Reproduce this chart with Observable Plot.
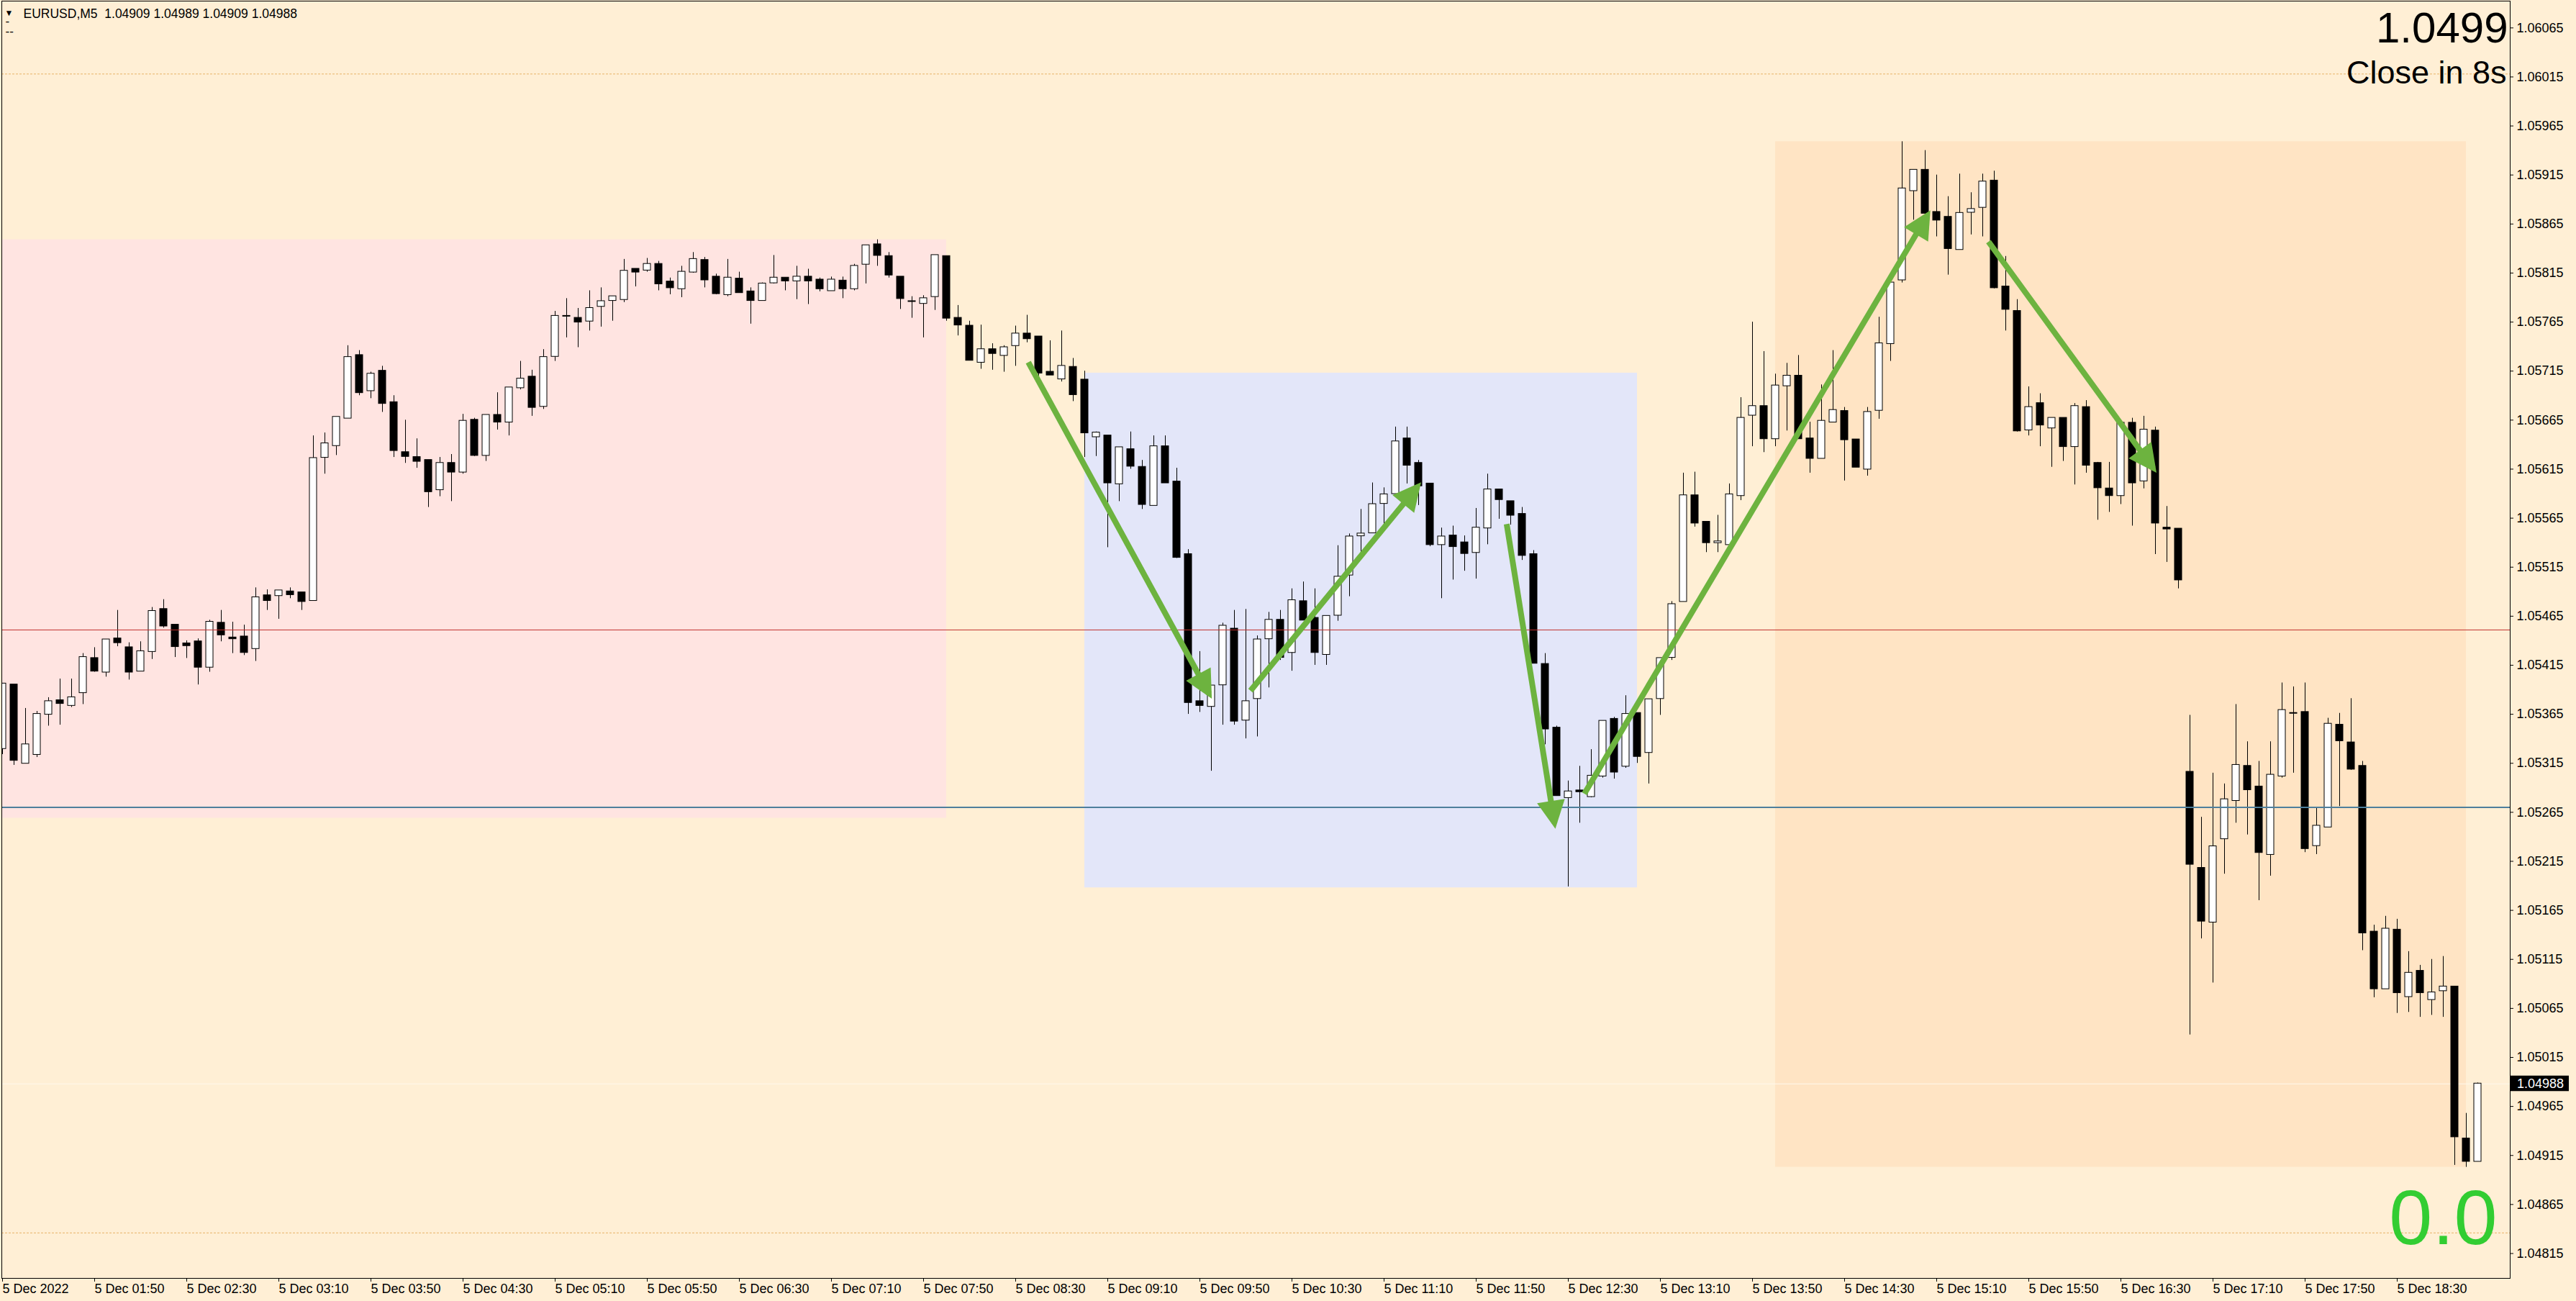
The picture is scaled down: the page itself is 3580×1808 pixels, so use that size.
<!DOCTYPE html>
<html>
<head>
<meta charset="utf-8">
<script src="https://cdn.jsdelivr.net/npm/d3@7"></script>
<script src="https://cdn.jsdelivr.net/npm/@observablehq/plot@0.6"></script>
<style>
html, body { margin: 0; padding: 0; background: #FFEFD5; overflow: hidden; }
#chart svg { display: block; }
</style>
</head>
<body>
<div id="chart"></div>
<script>
// ---------- data ----------
const symbol = "EURUSD";
const timeframe = "M5";
const spreadText = "0.0";
const closeInText = "Close in 8s";

const open = [
1.05330,1.05395,1.05315,1.05324,1.05365,1.05379,1.05374,1.05387,1.05422,1.05408,
1.05442,1.05433,1.05409,1.05429,1.05472,1.05456,1.05437,1.05439,1.05413,1.05458,
1.05443,1.05444,1.05432,1.05486,1.05486,1.05490,1.05489,1.05481,1.05627,1.05639,
1.05667,1.05731,1.05695,1.05715,1.05683,1.05632,1.05627,1.05624,1.05594,1.05621,
1.05612,1.05665,1.05629,1.05670,1.05663,1.05698,1.05709,1.05679,1.05730,1.05771,
1.05769,1.05766,1.05781,1.05787,1.05788,1.05819,1.05818,1.05824,1.05806,1.05799,
1.05816,1.05828,1.05811,1.05793,1.05809,1.05796,1.05787,1.05805,1.05810,1.05807,
1.05811,1.05808,1.05797,1.05807,1.05799,1.05824,1.05844,1.05832,1.05811,1.05786,
1.05784,1.05791,1.05832,1.05769,1.05761,1.05724,1.05737,1.05731,1.05741,1.05753,
1.05750,1.05714,1.05707,1.05719,1.05706,1.05648,1.05649,1.05600,1.05635,1.05617,
1.05578,1.05638,1.05602,1.05528,1.05378,1.05373,1.05395,1.05452,1.05359,1.05381,
1.05442,1.05461,1.05428,1.05480,1.05463,1.05426,1.05466,1.05507,1.05547,1.05550,
1.05580,1.05590,1.05646,1.05621,1.05600,1.05538,1.05547,1.05540,1.05530,1.05555,
1.05594,1.05582,1.05569,1.05528,1.05416,1.05351,1.05280,1.05287,1.05281,1.05302,
1.05360,1.05312,1.05366,1.05326,1.05381,1.05423,1.05480,1.05588,1.05561,1.05540,
1.05538,1.05588,1.05670,1.05679,1.05646,1.05700,1.05710,1.05646,1.05626,1.05663,
1.05674,1.05645,1.05615,1.05675,1.05743,1.05808,1.05899,1.05920,1.05877,1.05872,
1.05839,1.05877,1.05882,1.05909,1.05801,1.05776,1.05655,1.05682,1.05657,1.05667,
1.05638,1.05678,1.05621,1.05595,1.05588,1.05662,1.05603,1.05654,1.05555,1.05554,
1.05306,1.05208,1.05153,1.05238,1.05277,1.05312,1.05291,1.05222,1.05302,1.05366,
1.05367,1.05231,1.05250,1.05354,1.05336,1.05312,1.05143,1.05085,1.05145,1.05077,
1.05103,1.05074,1.05083,1.05087,1.04932,1.04909];

const high = [
1.05396,1.05395,1.05371,1.05368,1.05382,1.05401,1.05401,1.05427,1.05433,1.05441,
1.05471,1.05438,1.05439,1.05474,1.05482,1.05456,1.05440,1.05442,1.05461,1.05471,
1.05459,1.05456,1.05494,1.05492,1.05491,1.05494,1.05489,1.05649,1.05652,1.05668,
1.05741,1.05736,1.05714,1.05720,1.05690,1.05665,1.05646,1.05624,1.05627,1.05630,
1.05671,1.05667,1.05670,1.05693,1.05698,1.05725,1.05716,1.05737,1.05776,1.05789,
1.05779,1.05797,1.05800,1.05791,1.05829,1.05819,1.05830,1.05827,1.05810,1.05822,
1.05836,1.05831,1.05814,1.05829,1.05816,1.05800,1.05805,1.05833,1.05810,1.05822,
1.05819,1.05810,1.05811,1.05811,1.05824,1.05843,1.05849,1.05836,1.05811,1.05791,
1.05792,1.05833,1.05832,1.05782,1.05766,1.05762,1.05743,1.05741,1.05761,1.05772,
1.05750,1.05746,1.05756,1.05728,1.05715,1.05653,1.05649,1.05637,1.05653,1.05624,
1.05649,1.05649,1.05616,1.05533,1.05429,1.05394,1.05458,1.05471,1.05472,1.05445,
1.05469,1.05471,1.05493,1.05500,1.05493,1.05465,1.05537,1.05549,1.05574,1.05601,
1.05596,1.05658,1.05658,1.05624,1.05600,1.05555,1.05557,1.05547,1.05575,1.05610,
1.05594,1.05582,1.05576,1.05532,1.05427,1.05353,1.05297,1.05312,1.05329,1.05358,
1.05362,1.05384,1.05366,1.05380,1.05422,1.05480,1.05611,1.05612,1.05561,1.05568,
1.05600,1.05688,1.05765,1.05735,1.05712,1.05723,1.05731,1.05663,1.05701,1.05736,
1.05678,1.05645,1.05678,1.05770,1.05805,1.05949,1.05920,1.05940,1.05915,1.05893,
1.05916,1.05897,1.05916,1.05919,1.05832,1.05788,1.05699,1.05692,1.05667,1.05667,
1.05682,1.05685,1.05622,1.05622,1.05663,1.05667,1.05669,1.05658,1.05577,1.05554,
1.05364,1.05260,1.05305,1.05294,1.05375,1.05337,1.05317,1.05337,1.05397,1.05393,
1.05397,1.05270,1.05361,1.05366,1.05381,1.05317,1.05150,1.05159,1.05156,1.05123,
1.05109,1.05115,1.05118,1.05087,1.04958,1.04989];

const low = [
1.05324,1.05313,1.05315,1.05321,1.05353,1.05354,1.05372,1.05375,1.05408,1.05403,
1.05434,1.05400,1.05409,1.05421,1.05453,1.05423,1.05422,1.05395,1.05408,1.05439,
1.05427,1.05425,1.05419,1.05471,1.05462,1.05483,1.05471,1.05481,1.05610,1.05629,
1.05667,1.05690,1.05687,1.05673,1.05627,1.05621,1.05616,1.05576,1.05587,1.05582,
1.05610,1.05628,1.05623,1.05655,1.05649,1.05696,1.05669,1.05676,1.05725,1.05749,
1.05739,1.05756,1.05760,1.05766,1.05785,1.05801,1.05816,1.05797,1.05793,1.05790,
1.05815,1.05800,1.05793,1.05791,1.05795,1.05763,1.05787,1.05804,1.05797,1.05788,
1.05783,1.05796,1.05797,1.05789,1.05797,1.05804,1.05822,1.05810,1.05778,1.05769,
1.05749,1.05777,1.05766,1.05751,1.05726,1.05717,1.05716,1.05714,1.05720,1.05744,
1.05700,1.05711,1.05704,1.05684,1.05627,1.05628,1.05535,1.05582,1.05615,1.05574,
1.05578,1.05601,1.05524,1.05365,1.05367,1.05307,1.05354,1.05354,1.05340,1.05342,
1.05392,1.05420,1.05409,1.05461,1.05415,1.05415,1.05460,1.05485,1.05523,1.05550,
1.05559,1.05587,1.05600,1.05578,1.05536,1.05483,1.05502,1.05511,1.05503,1.05538,
1.05564,1.05558,1.05522,1.05417,1.05334,1.05282,1.05189,1.05254,1.05280,1.05300,
1.05299,1.05310,1.05315,1.05294,1.05364,1.05420,1.05480,1.05556,1.05530,1.05530,
1.05538,1.05583,1.05638,1.05632,1.05638,1.05654,1.05646,1.05611,1.05626,1.05663,
1.05603,1.05617,1.05608,1.05666,1.05725,1.05805,1.05869,1.05875,1.05852,1.05813,
1.05839,1.05854,1.05852,1.05799,1.05756,1.05653,1.05649,1.05638,1.05617,1.05623,
1.05599,1.05611,1.05563,1.05571,1.05579,1.05557,1.05595,1.05528,1.05520,1.05493,
1.05038,1.05136,1.05091,1.05202,1.05254,1.05242,1.05175,1.05200,1.05300,1.05305,
1.05224,1.05222,1.05250,1.05271,1.05308,1.05124,1.05076,1.05085,1.05060,1.05061,
1.05056,1.05058,1.05056,1.04905,1.04903,1.04909];

const close = [
1.05396,1.05318,1.05334,1.05365,1.05378,1.05376,1.05382,1.05423,1.05409,1.05441,
1.05438,1.05408,1.05429,1.05470,1.05455,1.05434,1.05435,1.05413,1.05459,1.05446,
1.05442,1.05428,1.05484,1.05481,1.05491,1.05487,1.05480,1.05626,1.05641,1.05668,
1.05729,1.05693,1.05712,1.05682,1.05634,1.05628,1.05623,1.05592,1.05621,1.05612,
1.05664,1.05629,1.05670,1.05663,1.05698,1.05707,1.05678,1.05729,1.05771,1.05771,
1.05765,1.05779,1.05786,1.05791,1.05817,1.05816,1.05824,1.05804,1.05800,1.05816,
1.05829,1.05808,1.05794,1.05810,1.05795,1.05787,1.05804,1.05810,1.05807,1.05811,
1.05807,1.05799,1.05808,1.05799,1.05822,1.05843,1.05833,1.05813,1.05789,1.05786,
1.05789,1.05833,1.05769,1.05762,1.05726,1.05737,1.05733,1.05739,1.05753,1.05748,
1.05713,1.05711,1.05720,1.05691,1.05652,1.05652,1.05601,1.05637,1.05618,1.05579,
1.05638,1.05601,1.05525,1.05377,1.05374,1.05394,1.05455,1.05358,1.05378,1.05441,
1.05461,1.05423,1.05481,1.05461,1.05428,1.05465,1.05505,1.05546,1.05549,1.05579,
1.05589,1.05643,1.05619,1.05598,1.05538,1.05546,1.05536,1.05529,1.05555,1.05594,
1.05584,1.05568,1.05527,1.05417,1.05350,1.05282,1.05286,1.05286,1.05302,1.05358,
1.05306,1.05365,1.05322,1.05380,1.05422,1.05477,1.05588,1.05560,1.05540,1.05541,
1.05589,1.05667,1.05679,1.05646,1.05700,1.05710,1.05646,1.05626,1.05664,1.05675,
1.05645,1.05617,1.05673,1.05743,1.05805,1.05901,1.05920,1.05876,1.05869,1.05840,
1.05876,1.05880,1.05908,1.05800,1.05778,1.05654,1.05678,1.05660,1.05667,1.05638,
1.05679,1.05619,1.05596,1.05588,1.05662,1.05601,1.05655,1.05560,1.05554,1.05502,
1.05212,1.05154,1.05230,1.05278,1.05313,1.05288,1.05224,1.05303,1.05369,1.05366,
1.05228,1.05251,1.05355,1.05338,1.05309,1.05142,1.05085,1.05146,1.05081,1.05101,
1.05081,1.05081,1.05087,1.04934,1.04909,1.04988];

// time axis: bar index of each label, and the label text
const timeTickBars = [0,8,16,24,32,40,48,56,64,72,80,88,96,104,112,120,128,136,144,152,160,168,176,184,192,200,208];
const timeLabels = ["5 Dec 2022","5 Dec 01:50","5 Dec 02:30","5 Dec 03:10","5 Dec 03:50","5 Dec 04:30",
  "5 Dec 05:10","5 Dec 05:50","5 Dec 06:30","5 Dec 07:10","5 Dec 07:50","5 Dec 08:30","5 Dec 09:10",
  "5 Dec 09:50","5 Dec 10:30","5 Dec 11:10","5 Dec 11:50","5 Dec 12:30","5 Dec 13:10","5 Dec 13:50",
  "5 Dec 14:30","5 Dec 15:10","5 Dec 15:50","5 Dec 16:30","5 Dec 17:10","5 Dec 17:50","5 Dec 18:30"];

// price axis ticks
const priceTicks = [1.04815,1.04865,1.04915,1.04965,1.05015,1.05065,1.05115,1.05165,1.05215,1.05265,
  1.05315,1.05365,1.05415,1.05465,1.05515,1.05565,1.05615,1.05665,1.05715,1.05765,1.05815,1.05865,
  1.05915,1.05965,1.06015,1.06065];

// drawn objects
const zoneStart  = [-1, 94, 154];
const zoneEnd    = [82, 142, 214];
const zoneTop    = [1.05849, 1.05713, 1.05949];
const zoneBottom = [1.05259, 1.05188, 1.04903];

const redLevel = 1.05451;
const blueLevel = 1.05270;
const dashedLevels = [1.06018, 1.04836];
const bidPrice = 1.04988;

const arrowFromBar   = [89.1, 108.4, 130.65, 137.4, 172.5];
const arrowFromPrice = [1.05724, 1.05389, 1.05559, 1.05284, 1.05847];
const arrowToBar     = [104.8, 122.9, 134.8, 167.2, 186.8];
const arrowToPrice   = [1.05386, 1.05597, 1.05254, 1.05874, 1.05616];

// ---------- build ----------
const bars = open.map((o, i) => ({i, o, h: high[i], l: low[i], c: close[i]}));
const zones = zoneStart.map((s, k) => ({k, s, e: zoneEnd[k], t: zoneTop[k], b: zoneBottom[k]}));
const zoneColors = ["#FFE4E1", "#E3E6F9", "#FFE4C4"];
const arrows = arrowFromBar.map((x1, k) => ({x1, y1: arrowFromPrice[k], x2: arrowToBar[k], y2: arrowToPrice[k]}));

const last = bars[bars.length - 1];
const headerText = `${symbol},${timeframe}  ${last.o.toFixed(5)} ${last.h.toFixed(5)} ${last.l.toFixed(5)} ${last.c.toFixed(5)}`;
const bigPrice = last.c.toFixed(4);

const NS = "http://www.w3.org/2000/svg";
const FONT = "'Liberation Sans', Arial, sans-serif";

function arrowHead(color) {
  const m = document.createElementNS(NS, "marker");
  m.setAttribute("viewBox", "-45 -25 60 50");
  m.setAttribute("markerWidth", "60");
  m.setAttribute("markerHeight", "50");
  m.setAttribute("markerUnits", "userSpaceOnUse");
  m.setAttribute("refX", "0");
  m.setAttribute("refY", "0");
  m.setAttribute("orient", "auto");
  m.setAttribute("overflow", "visible");
  const p = document.createElementNS(NS, "path");
  p.setAttribute("d", "M8,0L-31,-19.5L-31,19.5Z");
  p.setAttribute("fill", color);
  p.setAttribute("stroke", "none");
  m.appendChild(p);
  return m;
}

function bidLabel(index, scales, values, dims) {
  const g = document.createElementNS(NS, "g");
  const y = scales.y(bidPrice);
  const x0 = dims.width - dims.marginRight;
  const r = document.createElementNS(NS, "rect");
  r.setAttribute("x", x0 + 1);
  r.setAttribute("y", y - 11);
  r.setAttribute("width", 81);
  r.setAttribute("height", 21.5);
  r.setAttribute("fill", "black");
  g.appendChild(r);
  const t = document.createElementNS(NS, "text");
  t.setAttribute("x", x0 + 10);
  t.setAttribute("y", y);
  t.setAttribute("dy", "0.34em");
  t.setAttribute("text-anchor", "start");
  t.setAttribute("fill", "white");
  t.setAttribute("font-size", "18");
  t.setAttribute("font-family", FONT);
  t.textContent = bidPrice.toFixed(5);
  g.appendChild(t);
  return g;
}

const chart = Plot.plot({
  width: 3580,
  height: 1808,
  marginLeft: 2,
  marginTop: 1,
  marginRight: 92,
  marginBottom: 32,
  style: {background: "#FFEFD5", color: "black", fontFamily: FONT, fontSize: "18px"},
  x: {domain: [0, 215], range: [3, 3443], label: null},
  y: {domain: [1.04815, 1.06065], range: [1741.5, 38.3], label: null},
  marks: [
    Plot.rect(zones, {x1: "s", x2: "e", y1: "b", y2: "t", fill: d => zoneColors[d.k], clip: true}),
    Plot.ruleY([bidPrice], {stroke: "#FFF8EE", strokeWidth: 1}),
    Plot.ruleY(dashedLevels, {stroke: "#E8B468", strokeWidth: 1, strokeDasharray: "3,2"}),
    Plot.ruleX(bars, {x: "i", y1: "l", y2: "h", stroke: "black", strokeWidth: 1, clip: true}),
    Plot.rect(bars, {
      x1: d => d.i - 0.5, x2: d => d.i + 0.5, y1: "o", y2: "c",
      insetLeft: 3, insetRight: 3, insetTop: -0.5, insetBottom: -0.5,
      fill: d => d.c >= d.o ? "white" : "black", stroke: "black", strokeWidth: 1, clip: true
    }),
    Plot.ruleY([redLevel], {stroke: "#C0302E", strokeWidth: 1}),
    Plot.ruleY([blueLevel], {stroke: "#4E7F9C", strokeWidth: 2}),
    Plot.link(arrows, {x1: "x1", y1: "y1", x2: "x2", y2: "y2", stroke: "#6DB33F", strokeWidth: 8,
      strokeLinecap: "butt", markerEnd: arrowHead}),
    Plot.text([headerText], {text: d => d, frameAnchor: "top-left", textAnchor: "start", lineAnchor: "bottom",
      dx: 30, dy: 23, fontSize: 17.5, fill: "black"}),
    Plot.text(["▼"], {text: d => d, frameAnchor: "top-left", textAnchor: "start", lineAnchor: "bottom",
      dx: 4, dy: 20, fontSize: 12, fill: "black"}),
    Plot.text(["-"], {text: d => d, frameAnchor: "top-left", textAnchor: "start", lineAnchor: "bottom",
      dx: 5, dy: 33, fontSize: 17, fill: "black"}),
    Plot.text(["--"], {text: d => d, frameAnchor: "top-left", textAnchor: "start", lineAnchor: "bottom",
      dx: 5, dy: 47, fontSize: 17, fill: "black"}),
    Plot.text([bigPrice], {text: d => d, frameAnchor: "top-right", textAnchor: "end", lineAnchor: "bottom",
      dx: -3, dy: 57, fontSize: 60, fill: "black"}),
    Plot.text([closeInText], {text: d => d, frameAnchor: "top-right", textAnchor: "end", lineAnchor: "bottom",
      dx: -5, dy: 114, fontSize: 45, fill: "black"}),
    Plot.text([spreadText], {text: d => d, frameAnchor: "bottom-right", textAnchor: "end", lineAnchor: "bottom",
      dx: -18, dy: -48, fontSize: 108, fill: "#32CD32"}),
    Plot.frame({stroke: "black", strokeWidth: 1}),
    Plot.axisY({anchor: "right", ticks: priceTicks, tickFormat: d => d.toFixed(5), tickSize: 4, tickPadding: 5,
      fontSize: 18, label: null}),
    Plot.axisX({anchor: "bottom", ticks: timeTickBars, tickFormat: d => timeLabels[timeTickBars.indexOf(d)],
      tickSize: 5, tickPadding: 3, textAnchor: "start", fontSize: 18, label: null}),
    bidLabel
  ]
});

document.getElementById("chart").appendChild(chart);
</script>
</body>
</html>
